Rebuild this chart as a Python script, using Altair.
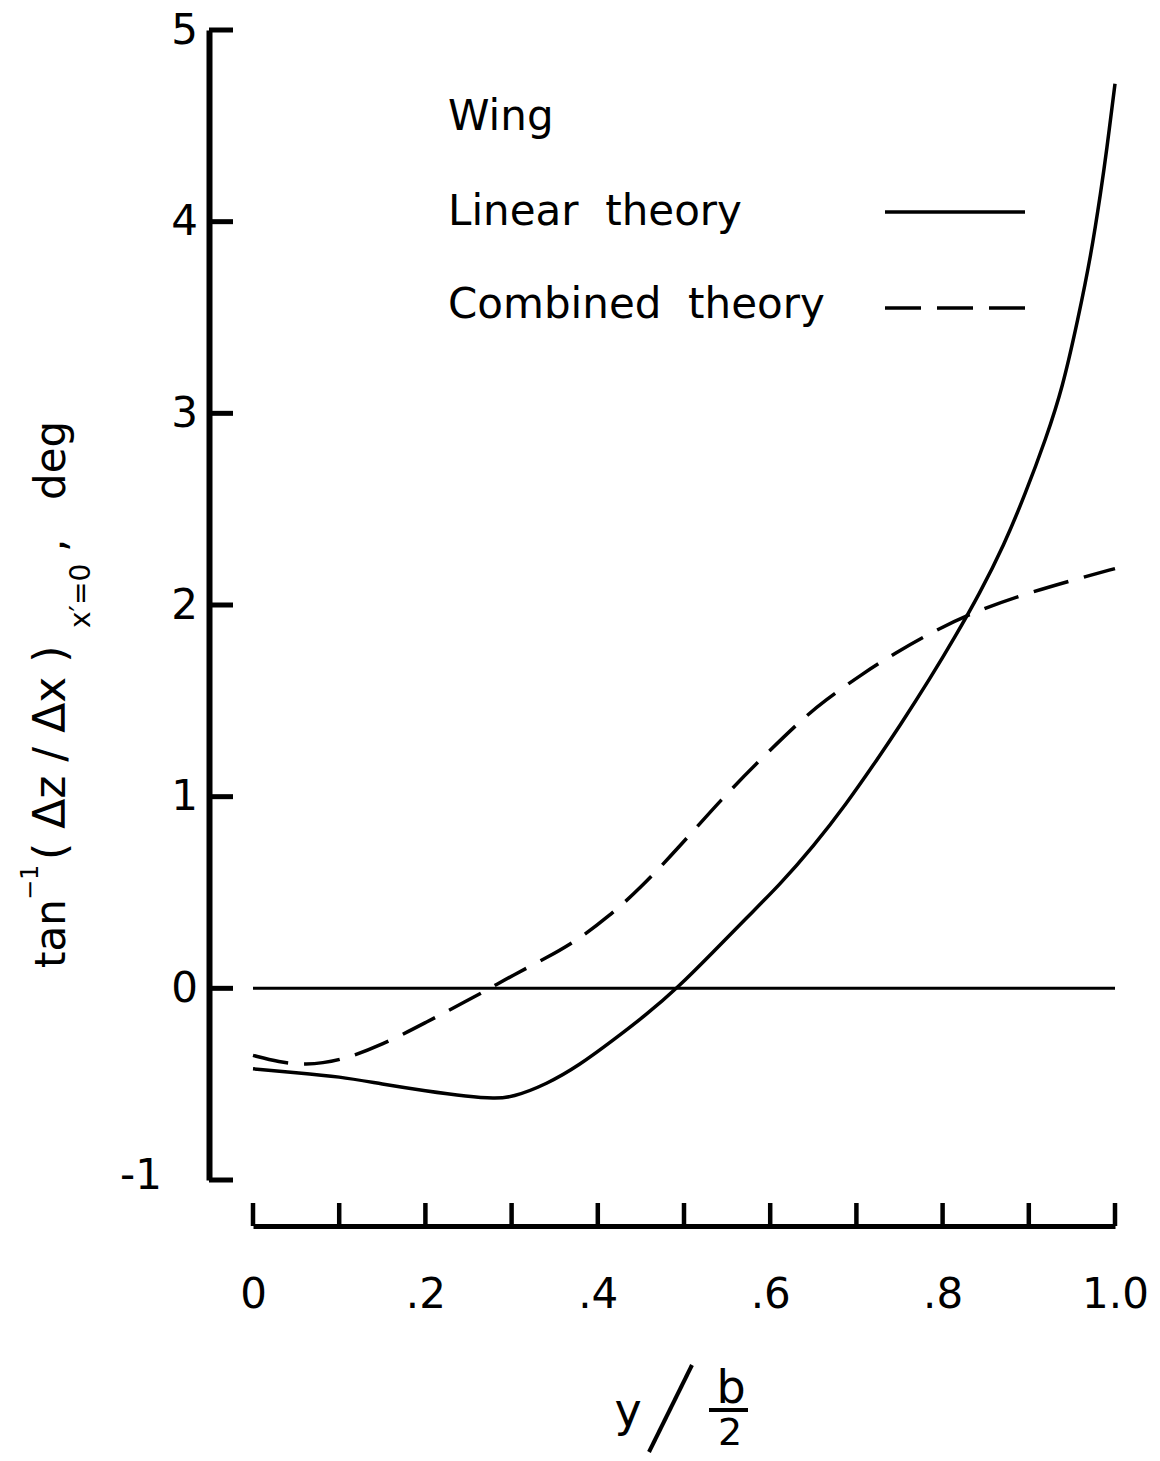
import altair as alt
import pandas as pd

# ---------------- data ----------------
lin_x = [0.0, 0.05, 0.1, 0.15, 0.2, 0.25, 0.28, 0.30, 0.341, 0.379, 0.418, 0.457,
         0.492, 0.534, 0.573, 0.611, 0.65, 0.688, 0.725, 0.749, 0.786, 0.814, 0.843,
         0.871, 0.896, 0.920, 0.939, 0.957, 0.972, 0.984, 0.990, 1.0]
lin_y = [-0.42, -0.44, -0.46, -0.50, -0.535, -0.565, -0.575, -0.57, -0.50, -0.40,
         -0.27, -0.135, 0.0, 0.19, 0.37, 0.54, 0.74, 0.96, 1.20, 1.36, 1.62, 1.83,
         2.06, 2.31, 2.58, 2.87, 3.13, 3.49, 3.82, 4.17, 4.36, 4.72]

comb_x = [0.0, 0.03, 0.06, 0.1, 0.15, 0.2, 0.25, 0.275, 0.3, 0.341, 0.376, 0.414,
          0.449, 0.495, 0.544, 0.590, 0.636, 0.663, 0.705, 0.745, 0.790, 0.840,
          0.897, 0.959, 1.0]
comb_y = [-0.35, -0.385, -0.40, -0.38, -0.295, -0.18, -0.06, 0.0, 0.065, 0.16, 0.25,
          0.38, 0.52, 0.74, 0.99, 1.20, 1.40, 1.50, 1.635, 1.75, 1.865, 1.97, 2.06,
          2.14, 2.19]

zero_x = [0.0, 1.0]
zero_y = [0.0, 0.0]

y_ticks = [-1, 0, 1, 2, 3, 4, 5]
y_label_text = ["", "0", "1", "2", "3", "4", "5"]   # "-1" is drawn as its own text
y_min_label = "-1"
x_ticks = [0.0, 0.1, 0.2, 0.3, 0.4, 0.5, 0.6, 0.7, 0.8, 0.9, 1.0]
x_label_values = [0.0, 0.2, 0.4, 0.6, 0.8, 1.0]
x_label_text = ["0", ".2", ".4", ".6", ".8", "1.0"]

legend_title = "Wing"
legend_linear = "Linear\u00a0\u00a0theory"
legend_combined = "Combined\u00a0\u00a0theory"

# ---------------- layout ----------------
W, H = 862, 1150
LEFT, TOP = 253, 30          # page position of the plot area's top-left corner
FONT = "DejaVu Sans"


def px(xp):
    return xp - LEFT


def py(yp):
    return yp - TOP


xs = alt.Scale(domain=[0, 1], nice=False, zero=False)
ys = alt.Scale(domain=[-1, 5], nice=False, zero=False)

x_label_expr = "[" + ",".join("'%s'" % t for t in x_label_text) + "][round(datum.value*5)]"
y_label_expr = "[" + ",".join("'%s'" % t for t in y_label_text) + "][round(datum.value)+1]"

xaxis = alt.Axis(values=x_label_values, labelExpr=x_label_expr, ticks=False, tickSize=0,
                 domainColor="black", domainWidth=5, offset=46, labelFont=FONT,
                 labelFontSize=42, labelColor="black", labelPadding=48,
                 labelFlush=False, labelOverlap=False, grid=False, title=None)
yaxis = alt.Axis(values=y_ticks, labelExpr=y_label_expr, ticks=False, tickSize=0,
                 domainColor="black", domainWidth=6, offset=44, labelFont=FONT,
                 labelFontSize=42, labelColor="black", labelPadding=25,
                 labelAlign="center", labelBaseline="middle", labelFlush=False,
                 labelOverlap=False, grid=False, title=None)


def curve(xv, yv, **kw):
    df = pd.DataFrame({"x": xv, "y": yv})
    return alt.Chart(df).mark_line(color="black", **kw).encode(
        x=alt.X("x:Q", scale=xs, axis=xaxis),
        y=alt.Y("y:Q", scale=ys, axis=yaxis),
    )


zero_line = curve(zero_x, zero_y, strokeWidth=3)
linear = curve(lin_x, lin_y, strokeWidth=3.5, interpolate="basis")
combined = curve(comb_x, comb_y, strokeWidth=3.5, interpolate="basis",
                 strokeDash=[36, 16])

ytick_rules = alt.Chart(pd.DataFrame({"v": y_ticks})).mark_rule(
    color="black", strokeWidth=5).encode(
    y=alt.Y("v:Q", scale=ys, axis=yaxis),
    x=alt.value(px(209)), x2=alt.value(px(233)))

xtick_rules = alt.Chart(pd.DataFrame({"v": x_ticks})).mark_rule(
    color="black", strokeWidth=4.5).encode(
    x=alt.X("v:Q", scale=xs, axis=xaxis),
    y=alt.value(py(1226)), y2=alt.value(py(1203)))


def label(text, xp, yp, size, align="left", baseline="middle", angle=0):
    return alt.Chart(pd.DataFrame({"t": [text]})).mark_text(
        align=align, baseline=baseline, fontSize=size, font=FONT,
        color="black", angle=angle).encode(
        text="t:N", x=alt.value(px(xp)), y=alt.value(py(yp)))


def seg(x1, y1, x2, y2, width=4, dash=None):
    kw = {"color": "black", "strokeWidth": width}
    if dash:
        kw["strokeDash"] = dash
    return alt.Chart(pd.DataFrame({"a": [0]})).mark_rule(**kw).encode(
        x=alt.value(px(x1)), y=alt.value(py(y1)),
        x2=alt.value(px(x2)), y2=alt.value(py(y2)))


# lowest y tick label, set apart to the left as in the reference
ymin_label = label(y_min_label, 141, 1176, 42, align="center")

# legend
legend = [
    label(legend_title, 448, 117, 42),
    label(legend_linear, 448, 212, 42),
    label(legend_combined, 448, 305, 42),
    seg(885, 212, 1025, 212, width=3.5),
    seg(885, 308, 1025, 308, width=3.5, dash=[36, 16]),
]

# y-axis title (rotated, pieces)
ytitle = [
    label("tan", 65, 968, 42, baseline="alphabetic", angle=270),
    label("\u22121", 38, 900, 24, baseline="alphabetic", angle=270),
    label("( \u0394z / \u0394x )", 65, 860, 44, baseline="alphabetic", angle=270),
    label("x\u2032=0", 90, 628, 28, baseline="alphabetic", angle=270),
    label(",", 65, 552, 42, baseline="alphabetic", angle=270),
    label("deg", 65, 500, 42, baseline="alphabetic", angle=270),
]

# x-axis title  y / (b/2)
xtitle = [
    label("y", 628, 1426, 46, align="center", baseline="alphabetic"),
    seg(649, 1452, 692, 1365, width=4),
    label("b", 731, 1403, 46, align="center", baseline="alphabetic"),
    seg(709, 1410, 748, 1410, width=4),
    label("2", 730, 1445, 38, align="center", baseline="alphabetic"),
]

chart = alt.layer(
    zero_line, linear, combined, ytick_rules, xtick_rules, ymin_label,
    *legend, *ytitle, *xtitle
).properties(
    width=W, height=H,
    autosize=alt.AutoSizeParams(type="none"),
    padding={"left": LEFT - 8, "top": TOP - 8, "right": 36, "bottom": 273},
    background="white",
).configure_view(stroke=None)

chart.save("out.html", embed_options={"renderer": "svg", "actions": False})
